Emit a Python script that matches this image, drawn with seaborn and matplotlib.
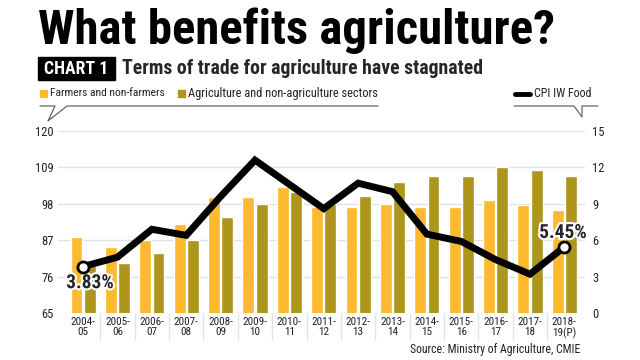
import numpy as np
import pandas as pd
import matplotlib.pyplot as plt
import matplotlib.patheffects as pe
from matplotlib.lines import Line2D
from matplotlib.patches import Rectangle
import seaborn as sns

# data
years = ["2004-\n05", "2005-\n06", "2006-\n07", "2007-\n08", "2008-\n09",
         "2009-\n10", "2010-\n11", "2011-\n12", "2012-\n13", "2013-\n14",
         "2014-\n15", "2015-\n16", "2016-\n17", "2017-\n18", "2018-\n19(P)"]
farmers = [88, 85, 87, 92, 100, 100, 103, 97, 97, 98, 97, 97, 99, 97.5, 96]
agri = [79.5, 80, 83, 87, 94, 98, 101.5, 98, 100.5, 104.5, 106.5, 106.3, 109.2, 108.3, 106.4]
cpi = [3.83, 4.6, 6.9, 6.4, 9.6, 12.6, 10.6, 8.6, 10.7, 10.0, 6.5, 5.9, 4.4, 3.2, 5.45]

left_ticks = [65, 76, 87, 98, 109, 120]
right_ticks = [0, 3, 6, 9, 12, 15]

s1 = "Farmers and non-farmers"
s2 = "Agriculture and non-agriculture sectors"
orange = "#FDB92F"
olive = "#AE951C"
grid_c = "#dfe2ea"

sns.set_style("white")
plt.rcParams['font.family'] = ['Roboto Condensed', 'Roboto', 'DejaVu Sans']

df = pd.DataFrame({
    "year": years * 2,
    "value": farmers + agri,
    "series": [s1] * len(years) + [s2] * len(years),
})

W, H = 640, 360
fig = plt.figure(figsize=(6.4, 3.6), dpi=100)
renderer = fig.canvas.get_renderer()


def fx(px):
    return px / W


def fy(py):
    return 1 - py / H


def fit(t, width_px):
    # shrink/grow a text so it spans the same width as in the reference
    w = t.get_window_extent(renderer).width
    t.set_fontsize(t.get_fontsize() * width_px / w)
    return t


ax = fig.add_axes([fx(58), fy(313), fx(585 - 58), (313 - 131) / H])
sns.barplot(data=df, x="year", y="value", hue="series", palette=[orange, olive],
            width=0.77, gap=0.1, ax=ax, legend=False, saturation=1)
ax.set_ylim(65, 120)
ax.set_xlim(-0.73, 14.6)
ax.set_yticks(left_ticks)
ax.set_xlabel("")
ax.set_ylabel("")
for t in left_ticks:
    ax.axhline(t, color=grid_c, lw=1, zorder=0)
ax.tick_params(axis="both", length=0, labelsize=9, colors="#222222")
ax.tick_params(axis="y", pad=3)
ax.tick_params(axis="x", pad=3)
for lab in ax.get_xticklabels():
    lab.set_linespacing(1.0)
    lab.set_fontsize(8)
sns.despine(ax=ax, left=True, bottom=True)

# separators under the category labels
trans = ax.get_xaxis_transform()
ax.vlines(np.arange(len(years) - 1) + 0.5, -0.15, 0, transform=trans,
          color=grid_c, lw=1, clip_on=False)

ax2 = ax.twinx()
sns.lineplot(x=np.arange(len(cpi)), y=cpi, ax=ax2, color="black", lw=5,
             solid_joinstyle="miter")
ax2.set_ylim(0, 15)
ax2.set_yticks(right_ticks)
ax2.tick_params(axis="y", length=0, labelsize=9, colors="#222222", pad=5)
ax2.set_ylabel("")
sns.despine(ax=ax2, left=True, bottom=True, right=True)
ax2.set_xlim(-0.73, 14.6)

for i in (0, len(cpi) - 1):
    ax2.plot(i, cpi[i], "o", ms=8, mfc="white", mec="black", mew=2, zorder=5)

stroke = [pe.withStroke(linewidth=3, foreground="white")]
ax2.annotate(f"{cpi[0]:.2f}%", (0, cpi[0]), xytext=(5, -12), textcoords="offset points",
             ha="center", va="center", fontsize=14, fontweight="black", path_effects=stroke)
ax2.annotate(f"{cpi[-1]:.2f}%", (len(cpi) - 1, cpi[-1]), xytext=(-1, 10), textcoords="offset points",
             ha="center", va="center", fontsize=14, fontweight="black", path_effects=stroke)

# header
title = fig.text(fx(38), fy(44), "What benefits agriculture?", fontsize=30, fontweight="black",
                 va="baseline", ha="left", color="black")
fit(title, 517)
fig.add_artist(Rectangle((fx(38), fy(80)), fx(115 - 38), (80 - 57) / H,
                         transform=fig.transFigure, color="black"))
chart = fig.text(fx(76.5), fy(68.5), "CHART 1", color="white", fontsize=12, fontweight="bold",
                 ha="center", va="center")
fit(chart, 64)
sub = fig.text(fx(122), fy(68.5), "Terms of trade for agriculture have stagnated", fontsize=13,
               fontweight="bold", ha="left", va="center")
fit(sub, 360)

# legend row
fig.add_artist(Rectangle((fx(40), fy(97)), fx(7), 7 / H, transform=fig.transFigure, color=orange))
fit(fig.text(fx(50), fy(93.5), s1, fontsize=9, va="center", color="#222222"), 115)
fig.add_artist(Rectangle((fx(178), fy(97)), fx(7), 7 / H, transform=fig.transFigure, color=olive))
fit(fig.text(fx(188), fy(93.5), s2, fontsize=9, va="center", color="#222222"), 190)
fig.add_artist(Line2D([fx(515), fx(530)], [fy(93.5), fy(93.5)], color="black", lw=3.5))
fit(fig.text(fx(534), fy(93.5), "CPI IW Food", fontsize=9, va="center", color="#222222"), 58)

# callout lines
lx = [40, 55, 48, 67, 378]
ly = [106, 106, 121, 106, 106]
fig.add_artist(Line2D([fx(v) for v in lx], [fy(v) for v in ly], color="#666666", lw=0.9))
rx = [514, 574, 582, 582, 598]
ry = [106, 106, 117, 106, 106]
fig.add_artist(Line2D([fx(v) for v in rx], [fy(v) for v in ry], color="#666666", lw=0.9))

src = fig.text(fx(580), fy(350), "Source: Ministry of Agriculture, CMIE", fontsize=8.5,
               ha="right", va="center", color="#222222")
fit(src, 170)

fig.savefig("out.png", dpi=100)
